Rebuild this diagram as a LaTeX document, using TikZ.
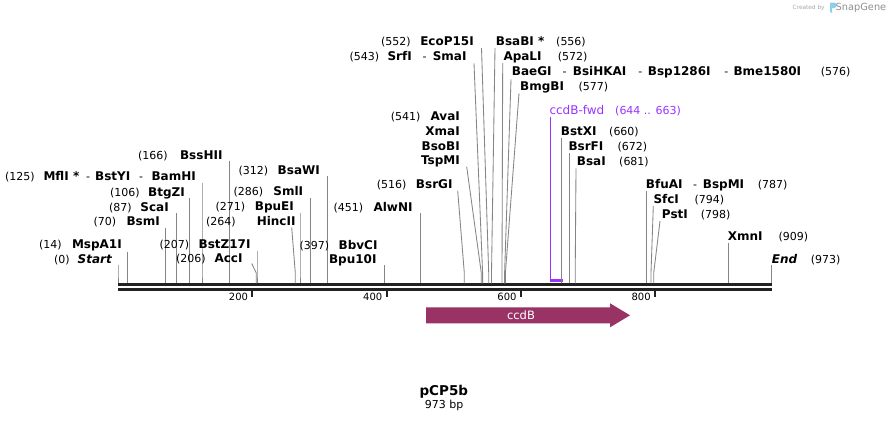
\documentclass[tikz,border=0pt]{standalone}
\usepackage{fontspec}
\setmainfont{DejaVu Sans}
\definecolor{cutgray}{HTML}{858585}
\definecolor{axisc}{HTML}{222222}
\definecolor{feat}{HTML}{9933FF}
\definecolor{ccdbc}{HTML}{993366}
\definecolor{wmgray}{HTML}{A8A8A8}
\definecolor{wmblue}{HTML}{8CCFEA}
\newcommand\cutline[4]{%
  \coordinate (t#1) at (#2,#3);
  \coordinate (k#1) at (#4,273);
  \coordinate (s#1) at (#4,283.4);
  \draw[cut] (t#1) -- (k#1) -- (s#1);}
\begin{document}
\begin{tikzpicture}[x=1pt,y=-1pt,
  num/.style={font=\fontsize{11}{13}\selectfont, anchor=base west, inner sep=0pt},
  dashlab/.style={font=\fontsize{11}{13}\selectfont, anchor=base west, inner sep=0pt},
  enzL/.style={font=\fontsize{12}{14}\selectfont\bfseries, anchor=base east, inner sep=0pt},
  enzR/.style={font=\fontsize{12}{14}\selectfont\bfseries, anchor=base west, inner sep=0pt},
  endlab/.style={font=\fontsize{12}{14}\selectfont\bfseries\itshape, inner sep=0pt},
  cut/.style={draw=cutgray, line width=0.85pt},
  axisline/.style={draw=axisc, line width=2.7pt},
  tickmark/.style={draw=axisc, line width=2pt},
  ticklab/.style={font=\fontsize{10}{12}\selectfont, anchor=base east, inner sep=0pt},
]
\useasboundingbox (0,0) rectangle (890,423);
\fill[white] (0,0) rectangle (890,423);

% watermark
\node[font=\fontsize{5.8}{7}\selectfont, text=wmgray, anchor=base west, inner sep=0pt] (wm1) at (792.5,9.6) {Created by};
\fill[wmblue] (830,2.5) -- (834.5,2.5) .. controls (837,2.5) and (837,8) .. (834.5,8) -- (832,8) -- (832,13) -- (830,12) -- cycle;
\node[font=\fontsize{9.8}{11}\selectfont, text=wmgray!85!black, anchor=base west, inner sep=0pt] (wm2) at (835.5,10.7) {SnapGene};

% axis
\coordinate (a0) at (118,284.7);
\coordinate (a1) at (771.7,284.7);
\coordinate (b0) at (118,289.7);
\coordinate (b1) at (771.7,289.7);
\draw[axisline] (a0) -- (a1);
\draw[axisline] (b0) -- (b1);

% ticks
\foreach \t/\x in {200/252.2,400/386.5,600/520.7,800/654.9}{
  \coordinate (tk\t a) at (\x,290);
  \coordinate (tk\t b) at (\x,297.2);
  \draw[tickmark] (tk\t a) -- (tk\t b);
  \node[ticklab] (tl\t) at (\x-4,300.6) {\t};
}

% ---------- left-side labels ----------
\node[num] (p0) at (54,263.3) {(0)};
\node[endlab, anchor=base east] (n0) at (112,263.3) {Start};
\cutline{0}{118}{264.5}{118}

\node[num] (p14) at (39,248.5) {(14)};
\node[enzL] (n14) at (122,248.5) {MspA1I};
\cutline{14}{127.4}{251.5}{127.4}

\node[num] (p70) at (93.3,225.7) {(70)};
\node[enzL] (n70) at (160,225.7) {BsmI};
\cutline{70}{165.2}{227.7}{165.2}

\node[num] (p87) at (109,211.5) {(87)};
\node[enzL] (n87) at (169,211.5) {ScaI};
\cutline{87}{176.4}{213.3}{176.4}

\node[num] (p106) at (110,196.5) {(106)};
\node[enzL] (n106) at (185,196.5) {BtgZI};
\cutline{106}{189.2}{197.5}{189.2}

\node[num] (p125) at (5,180.8) {(125)};
\node[enzR] (n125) at (43.3,180.8) {MflI};
\node[enzR] (n125s) at (73,180.8) {*};
\node[dashlab] (d125a) at (86,180.8) {-};
\node[enzR] (n125b) at (95,180.8) {BstYI};
\node[dashlab] (d125b) at (139,180.8) {-};
\node[enzL] (n125c) at (196,180.8) {BamHI};
\cutline{125}{202}{183}{202}

\node[num] (p166) at (138,159.3) {(166)};
\node[enzL] (n166) at (222.7,159.3) {BssHII};
\cutline{166}{229.4}{160.5}{229.4}

\node[num] (p207) at (159.3,248.8) {(207)};
\node[enzL] (n207) at (250.7,248.8) {BstZ17I};
\cutline{207}{257}{250.5}{257}

\node[num] (p206) at (176,262.5) {(206)};
\node[enzL] (n206) at (242.7,262.5) {AccI};
\cutline{206}{251.7}{263.5}{256.3}

\node[num] (p264) at (206,225.2) {(264)};
\node[enzL] (n264) at (295.7,225.2) {HincII};
\cutline{264}{291.7}{227.5}{295.3}

\node[num] (p271) at (215.5,210.8) {(271)};
\node[enzL] (n271) at (294,210.8) {BpuEI};
\cutline{271}{300}{212.7}{300}

\node[num] (p286) at (233.3,195.8) {(286)};
\node[enzL] (n286) at (303.3,195.8) {SmlI};
\cutline{286}{310.2}{197.7}{310.2}

\node[num] (p312) at (238.3,174.2) {(312)};
\node[enzL] (n312) at (320,174.2) {BsaWI};
\cutline{312}{327.4}{176}{327.4}

\node[num] (p397) at (299.3,249.2) {(397)};
\node[enzL] (n397) at (377.7,249.2) {BbvCI};
\node[enzL] (n397b) at (376.7,263.3) {Bpu10I};
\cutline{397}{384.5}{265}{384.5}

\node[num] (p451) at (333.3,211) {(451)};
\node[enzL] (n451) at (412.7,211) {AlwNI};
\cutline{451}{420.7}{213.3}{420.7}

\node[num] (p516) at (376.7,188.3) {(516)};
\node[enzL] (n516) at (452.7,188.3) {BsrGI};
\cutline{516}{457.7}{190.7}{464.3}

\node[num] (p541) at (390.7,120.7) {(541)};
\node[enzL] (n541) at (460,120.7) {AvaI};
\node[enzL] (n541b) at (460,135.2) {XmaI};
\node[enzL] (n541c) at (460,150) {BsoBI};
\node[enzL] (n541d) at (460,164.9) {TspMI};
\cutline{541}{466.7}{166.7}{481.3}

\node[num] (p543) at (349.5,60.7) {(543)};
\node[enzR] (n543) at (387.3,60.7) {SrfI};
\node[dashlab] (d543) at (422.3,60.7) {-};
\node[enzL] (n543b) at (466.7,60.7) {SmaI};
\cutline{543}{474}{63.3}{482.6}

\node[num] (p552) at (381,45.7) {(552)};
\node[enzL] (n552) at (474,45.7) {EcoP15I};
\cutline{552}{481.5}{48}{488.7}

% ---------- right-side labels ----------
\node[enzR] (n556) at (495.7,45.7) {BsaBI};
\node[enzR] (n556s) at (538,45.7) {*};
\node[num] (p556) at (556,45.7) {(556)};
\cutline{556}{495}{48}{491.5}

\node[enzR] (n572) at (503.3,60) {ApaLI};
\node[num] (p572) at (557.7,60) {(572)};
\cutline{572}{502.7}{63}{502}

\node[enzR] (n576) at (511.7,75.7) {BaeGI};
\node[dashlab] (d576a) at (562.5,75.7) {-};
\node[enzR] (n576b) at (572.7,75.7) {BsiHKAI};
\node[dashlab] (d576b) at (638.2,75.7) {-};
\node[enzR] (n576c) at (647.7,75.7) {Bsp1286I};
\node[dashlab] (d576c) at (724.2,75.7) {-};
\node[enzR] (n576d) at (733.3,75.7) {Bme1580I};
\node[num] (p576) at (820.7,75.7) {(576)};
\cutline{576}{511}{79.3}{504.6}

\node[enzR] (n577) at (520,90) {BmgBI};
\node[num] (p577) at (578.3,90) {(577)};
\cutline{577}{519}{93.3}{505.4}

% primer feature
\node[font=\fontsize{12}{14}\selectfont, text=feat, anchor=base west, inner sep=0pt] (nfwd) at (549.3,114) {ccdB-fwd};
\node[num, text=feat] (pfwd) at (615,114) {(644 .. 663)};
\coordinate (fwdtop) at (550.2,116.5);
\coordinate (fwdbot) at (550.2,280.6);
\coordinate (fwdend) at (562.6,280.6);
\draw[feat, line width=1.1pt] (fwdtop) -- (fwdbot);
\draw[feat, line width=2.4pt] ([xshift=-0.6pt]fwdbot) -- (fwdend);

\node[enzR] (n660) at (560.7,135) {BstXI};
\node[num] (p660) at (609,135) {(660)};
\cutline{660}{561}{138}{561}

\node[enzR] (n672) at (568.3,150.7) {BsrFI};
\node[num] (p672) at (617.3,150.7) {(672)};
\cutline{672}{569}{153}{569}

\node[enzR] (n681) at (576.7,165.7) {BsaI};
\node[num] (p681) at (619,165.7) {(681)};
\cutline{681}{576}{168.3}{575.2}

\node[enzR] (n787) at (645.7,188.3) {BfuAI};
\node[dashlab] (d787) at (692.8,188.3) {-};
\node[enzR] (n787b) at (702.7,188.3) {BspMI};
\node[num] (p787) at (757.7,188.3) {(787)};
\cutline{787}{646.2}{190.7}{646.2}

\node[enzR] (n794) at (653.3,203.3) {SfcI};
\node[num] (p794) at (694.3,203.3) {(794)};
\cutline{794}{653.3}{206}{651}

\node[enzR] (n798) at (661.7,218.3) {PstI};
\node[num] (p798) at (700.7,218.3) {(798)};
\cutline{798}{660}{221}{653.7}

\node[enzR] (n909) at (727.7,240.7) {XmnI};
\node[num] (p909) at (778.3,240.7) {(909)};
\cutline{909}{728.1}{243}{728.1}

\node[endlab, anchor=base west] (n973) at (771.7,263.3) {End};
\node[num] (p973) at (810.7,263.3) {(973)};
\cutline{973}{771.5}{265}{771.5}

% ccdB gene arrow
\fill[ccdbc] (426,307.3) -- (610,307.3) -- (610,303.3) -- (630,315.3) -- (610,327.3) -- (610,323.3) -- (426,323.3) -- cycle;
\node[font=\fontsize{11.5}{13}\selectfont, text=white, inner sep=0pt] (ccdb) at (521,315.3) {ccdB};

% title
\node[font=\fontsize{13.5}{15}\selectfont\bfseries, anchor=base, inner sep=0pt] (title) at (443.8,395.3) {pCP5b};
\node[font=\fontsize{11}{13}\selectfont, anchor=base, inner sep=0pt] (size) at (444.2,408.4) {973 bp};
\end{tikzpicture}
\end{document}
